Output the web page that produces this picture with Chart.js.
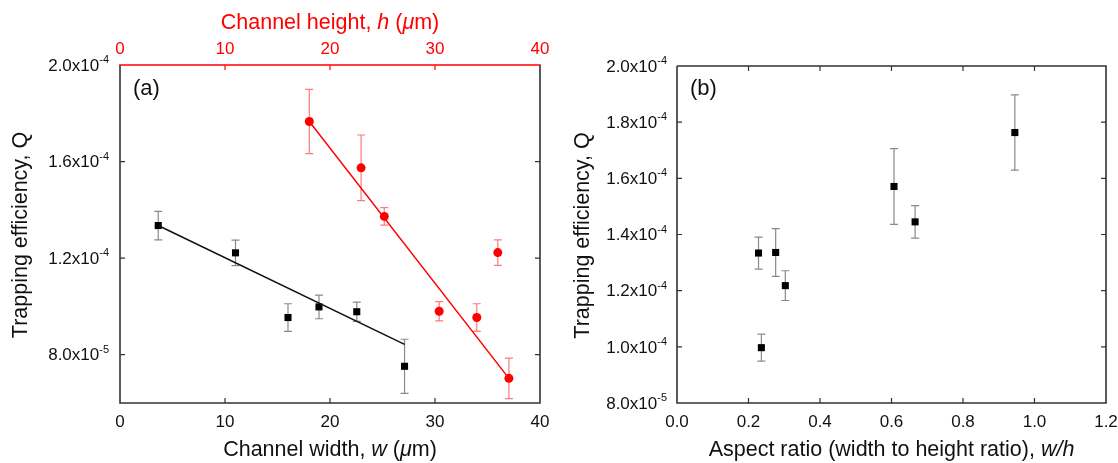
<!DOCTYPE html>
<html>
<head>
<meta charset="utf-8">
<script src="https://cdn.jsdelivr.net/npm/chart.js@4.4.1/dist/chart.umd.min.js"></script>
<style>
  html, body { margin: 0; padding: 0; background: #fff; }
  #wrap { position: relative; width: 1118px; height: 463px; }
  canvas { position: absolute; top: 0; }
  #ca { left: 0; }
  #cb { left: 560px; }
</style>
</head>
<body>
<div id="wrap">
  <canvas id="ca" width="560" height="463"></canvas>
  <canvas id="cb" width="558" height="463"></canvas>
</div>
<script>
// --- Data: panel (a), Q vs channel width w (black) ---
const widthW = [3.64, 11.0, 16.0, 18.95, 22.55, 27.1];
const qW     = [1.335e-4, 1.222e-4, 0.954e-4, 0.998e-4, 0.978e-4, 0.752e-4];
const errW   = [0.059e-4, 0.053e-4, 0.057e-4, 0.049e-4, 0.040e-4, 0.112e-4];
const fitWx  = [3.64, 27.1];
const fitWy  = [1.335e-4, 0.843e-4];

// --- Data: panel (a), Q vs channel height h (red, top axis) ---
const heightH = [18.03, 22.96, 25.17, 30.4, 33.98, 35.98, 37.04];
const qH      = [1.766e-4, 1.574e-4, 1.373e-4, 0.980e-4, 0.954e-4, 1.223e-4, 0.702e-4];
const errH    = [0.133e-4, 0.136e-4, 0.036e-4, 0.040e-4, 0.057e-4, 0.053e-4, 0.084e-4];
const fitHx   = [18.03, 37.04];
const fitHy   = [1.766e-4, 0.702e-4];

// --- Data: panel (b), Q vs aspect ratio w/h ---
const ratioR = [0.228, 0.236, 0.276, 0.303, 0.607, 0.666, 0.945];
const qR     = [1.334e-4, 0.997e-4, 1.336e-4, 1.218e-4, 1.571e-4, 1.445e-4, 1.763e-4];
const errR   = [0.057e-4, 0.048e-4, 0.085e-4, 0.053e-4, 0.135e-4, 0.058e-4, 0.134e-4];

// --- Ticks ---
const xTicksA = [0, 10, 20, 30, 40];
const xLabelsA = ["0", "10", "20", "30", "40"];
const yTicksA = [8e-5, 1.2e-4, 1.6e-4, 2.0e-4];
const xTicksB = [0, 0.2, 0.4, 0.6, 0.8, 1.0, 1.2];
const xLabelsB = ["0.0", "0.2", "0.4", "0.6", "0.8", "1.0", "1.2"];
const yTicksB = [8e-5, 1.0e-4, 1.2e-4, 1.4e-4, 1.6e-4, 1.8e-4, 2.0e-4];

const FONT = "'Liberation Sans', Arial, sans-serif";
const TICK_PX = 17, SUP_PX = 11, TITLE_PX = 21.5, PANEL_PX = 22;
const FRAME = "#333";

function withErr(xs, ys, es) {
  return xs.map((x, i) => ({ x, y: ys[i], yMin: ys[i] - es[i], yMax: ys[i] + es[i] }));
}
function pts(xs, ys) {
  return xs.map((x, i) => ({ x, y: ys[i] }));
}

function sciParts(v) {
  const exp = Math.floor(Math.log10(v) + 1e-9);
  return [(v / Math.pow(10, exp)).toFixed(1), String(exp)];
}

// tekstiä, jossa osa kursiivilla
function drawRuns(ctx, runs, cx, cy, size, color) {
  ctx.textBaseline = "middle";
  ctx.textAlign = "left";
  ctx.fillStyle = color;
  const widths = runs.map(r => {
    ctx.font = (r[1] ? "italic " : "") + size + "px " + FONT;
    return ctx.measureText(r[0]).width;
  });
  let x = cx - widths.reduce((a, b) => a + b, 0) / 2;
  runs.forEach((r, i) => {
    ctx.font = (r[1] ? "italic " : "") + size + "px " + FONT;
    ctx.fillText(r[0], x, cy);
    x += widths[i];
  });
}

function drawSci(ctx, v, xRight, y) {
  const [man, exp] = sciParts(v);
  const main = man + "x10";
  ctx.textAlign = "left";
  ctx.textBaseline = "middle";
  ctx.fillStyle = "#111";
  ctx.font = SUP_PX + "px " + FONT;
  const w2 = ctx.measureText(exp).width;
  ctx.font = TICK_PX + "px " + FONT;
  const w1 = ctx.measureText(main).width;
  ctx.fillText(main, xRight - w1 - w2, y + 1);
  ctx.font = SUP_PX + "px " + FONT;
  ctx.fillText(exp, xRight - w2, y - 5);
}

function framePlugin(cfg) {
  return {
    id: "frame",
    beforeDatasetsDraw(chart) {
      const ctx = chart.ctx;
      chart.data.datasets.forEach(ds => {
        if (!ds.errColor) return;
        const xs = chart.scales[ds.xAxisID || "x"], ys = chart.scales.y;
        ctx.save();
        ctx.strokeStyle = ds.errColor;
        ctx.lineWidth = 1.2;
        ds.data.forEach(p => {
          const px = xs.getPixelForValue(p.x);
          const top = ys.getPixelForValue(p.yMax), bot = ys.getPixelForValue(p.yMin);
          ctx.beginPath();
          ctx.moveTo(px, top); ctx.lineTo(px, bot);
          ctx.moveTo(px - 4, top); ctx.lineTo(px + 4, top);
          ctx.moveTo(px - 4, bot); ctx.lineTo(px + 4, bot);
          ctx.stroke();
        });
        ctx.restore();
      });
    },
    afterDraw(chart) {
      const ctx = chart.ctx;
      const a = chart.chartArea;
      const xs = chart.scales.x, ys = chart.scales.y;
      const x2 = chart.scales.x2;
      ctx.save();

      // kehys
      ctx.lineWidth = 1.6;
      ctx.strokeStyle = FRAME;
      ctx.beginPath();
      ctx.moveTo(a.left, a.top); ctx.lineTo(a.left, a.bottom);
      ctx.lineTo(a.right, a.bottom); ctx.lineTo(a.right, a.top);
      if (!cfg.topColor) ctx.lineTo(a.left, a.top);
      ctx.stroke();
      if (cfg.topColor) {
        ctx.strokeStyle = cfg.topColor;
        ctx.beginPath();
        ctx.moveTo(a.left - 0.8, a.top); ctx.lineTo(a.right + 0.8, a.top);
        ctx.stroke();
      }

      // sisäänpäin osoittavat tikit
      const T = 5;
      ctx.lineWidth = 1.2;
      ctx.strokeStyle = FRAME;
      ctx.beginPath();
      cfg.yTicks.forEach(v => {
        const py = ys.getPixelForValue(v);
        if (py <= a.top + 1 || py >= a.bottom - 1) return;
        ctx.moveTo(a.left, py); ctx.lineTo(a.left + T, py);
        ctx.moveTo(a.right, py); ctx.lineTo(a.right - T, py);
      });
      cfg.xTicks.forEach(v => {
        const px = xs.getPixelForValue(v);
        if (px <= a.left + 1 || px >= a.right - 1) return;
        ctx.moveTo(px, a.bottom); ctx.lineTo(px, a.bottom - T);
        if (!cfg.topColor) { ctx.moveTo(px, a.top); ctx.lineTo(px, a.top + T); }
      });
      ctx.stroke();
      if (cfg.topColor) {
        ctx.strokeStyle = cfg.topColor;
        ctx.beginPath();
        cfg.xTicks.forEach(v => {
          const px = x2.getPixelForValue(v);
          if (px <= a.left + 1 || px >= a.right - 1) return;
          ctx.moveTo(px, a.top); ctx.lineTo(px, a.top + T);
        });
        ctx.stroke();
      }

      // tikkien tekstit
      cfg.yTicks.forEach(v => drawSci(ctx, v, a.left - cfg.yGap, ys.getPixelForValue(v)));
      ctx.font = TICK_PX + "px " + FONT;
      ctx.textAlign = "center";
      ctx.textBaseline = "middle";
      ctx.fillStyle = "#111";
      cfg.xTicks.forEach((v, i) => ctx.fillText(cfg.xLabels[i], xs.getPixelForValue(v), a.bottom + 19));
      if (cfg.topColor) {
        ctx.fillStyle = cfg.topColor;
        cfg.xTicks.forEach((v, i) => ctx.fillText(cfg.xLabels[i], x2.getPixelForValue(v), a.top - 16));
      }

      // akselien otsikot
      const cx = (a.left + a.right) / 2;
      drawRuns(ctx, cfg.xTitle, cx, 450, TITLE_PX, "#111");
      if (cfg.x2Title) drawRuns(ctx, cfg.x2Title, cx, 23, TITLE_PX, cfg.topColor);
      ctx.save();
      ctx.translate(cfg.yTitleX, (a.top + a.bottom) / 2 + 1);
      ctx.rotate(-Math.PI / 2);
      drawRuns(ctx, [["Trapping efficiency, Q", false]], 0, 0, TITLE_PX, "#111");
      ctx.restore();

      // paneelin tunnus
      ctx.font = PANEL_PX + "px " + FONT;
      ctx.textAlign = "left";
      ctx.textBaseline = "middle";
      ctx.fillStyle = "#111";
      ctx.fillText(cfg.panel, a.left + 13, cfg.panelY);
      ctx.restore();
    }
  };
}

const noAxis = { display: false };

// --- Paneeli (a) ---
new Chart(document.getElementById("ca"), {
  type: "scatter",
  data: {
    datasets: [
      { data: pts(fitWx, fitWy), showLine: true, borderColor: "#111", borderWidth: 1.5, pointRadius: 0, xAxisID: "x" },
      { data: pts(fitHx, fitHy), showLine: true, borderColor: "#ff0000", borderWidth: 1.5, pointRadius: 0, xAxisID: "x2" },
      { data: withErr(widthW, qW, errW), errColor: "#8a8a8a", pointStyle: "rect", pointRadius: 5,
        backgroundColor: "#000", borderColor: "#000", borderWidth: 0, xAxisID: "x" },
      { data: withErr(heightH, qH, errH), errColor: "#ff7a7a", pointStyle: "circle", pointRadius: 4.5,
        backgroundColor: "#ff0000", borderColor: "#ff0000", borderWidth: 0, xAxisID: "x2" }
    ]
  },
  options: {
    responsive: false,
    animation: false,
    layout: { padding: { left: 120, right: 20, top: 65, bottom: 60 } },
    plugins: { legend: { display: false }, tooltip: { enabled: false } },
    scales: {
      x:  { ...noAxis, type: "linear", position: "bottom", min: 0, max: 40 },
      x2: { ...noAxis, type: "linear", position: "top", min: 0, max: 40 },
      y:  { ...noAxis, type: "linear", min: 6e-5, max: 2e-4 }
    }
  },
  plugins: [framePlugin({
    panel: "(a)", panelY: 89,
    xTicks: xTicksA, xLabels: xLabelsA, yTicks: yTicksA, yGap: 11,
    topColor: "#ff0000",
    xTitle: [["Channel width, ", false], ["w", true], [" (", false], ["\u03bc", true], ["m)", false]],
    x2Title: [["Channel height, ", false], ["h", true], [" (", false], ["\u03bc", true], ["m)", false]],
    yTitleX: 21
  })]
});

// --- Paneeli (b) ---
new Chart(document.getElementById("cb"), {
  type: "scatter",
  data: {
    datasets: [
      { data: withErr(ratioR, qR, errR), errColor: "#8a8a8a", pointStyle: "rect", pointRadius: 5,
        backgroundColor: "#000", borderColor: "#000", borderWidth: 0 }
    ]
  },
  options: {
    responsive: false,
    animation: false,
    layout: { padding: { left: 117, right: 12, top: 66, bottom: 60 } },
    plugins: { legend: { display: false }, tooltip: { enabled: false } },
    scales: {
      x: { ...noAxis, type: "linear", min: 0, max: 1.2 },
      y: { ...noAxis, type: "linear", min: 8e-5, max: 2e-4 }
    }
  },
  plugins: [framePlugin({
    panel: "(b)", panelY: 89,
    xTicks: xTicksB, xLabels: xLabelsB, yTicks: yTicksB, yGap: 10,
    topColor: null,
    xTitle: [["Aspect ratio (width to height ratio), ", false], ["w/h", true]],
    yTitleX: 23
  })]
});
</script>
</body>
</html>
